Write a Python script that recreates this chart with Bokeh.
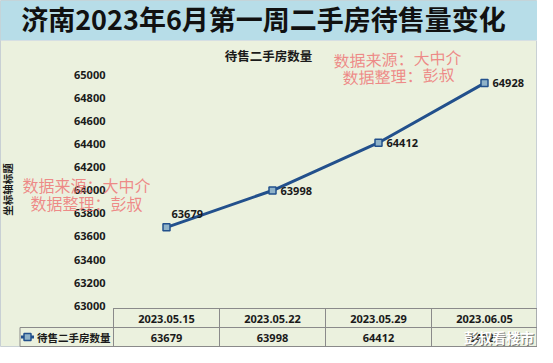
from bokeh.plotting import figure
from bokeh.models import Range1d
from bokeh.core.properties import value
from bokeh.embed import file_html
from bokeh.resources import INLINE

# ---- data ----
dates = ["2023.05.15", "2023.05.22", "2023.05.29", "2023.06.05"]
counts = [63679, 63998, 64412, 64928]
y_ticks = [63000, 63200, 63400, 63600, 63800, 64000, 64200, 64400, 64600, 64800, 65000]
series_name = "待售二手房数量"
main_title = "济南2023年6月第一周二手房待售量变化"
axis_title = "坐标轴标题"
wm_line1 = "数据来源：大中介"
wm_line2 = "数据整理：彭叔"
brand = "彭叔看楼市"

# ---- styles ----
BAND = "#b7dde8"
BG = "#ebf1de"
LINE = "#22508c"
MFILL = "#8fb2c8"
GRIDC = "#8a8a8a"
WM = "#ee7878"
CJK = value("Noto Sans CJK SC")
LAT = value("Noto Sans")

W, H = 537, 347
idx = list(range(len(dates)))

p = figure(width=W, height=H, output_backend="svg", toolbar_location=None,
           x_range=Range1d(-166 / 106, 371 / 106), y_range=Range1d(62639, 65643),
           x_axis_location=None, y_axis_location=None, min_border=0)
p.grid.visible = False
p.outline_line_color = "#c8d0d4"
p.background_fill_color = BG
p.border_fill_color = BG
p.extra_x_ranges = {"px": Range1d(8, 545)}
p.extra_y_ranges = {"py": Range1d(355, 8)}

# title band
p.quad(left=[8], right=[545], top=[8], bottom=[48], fill_color=BAND,
       line_color=None, x_range_name="px", y_range_name="py")
p.segment(x0=[8], x1=[545], y0=[48], y1=[48], line_color="#d6dfe3", line_width=1,
          x_range_name="px", y_range_name="py")
p.text(x=[271], y=[26], text=[main_title], text_font=CJK, text_font_style="bold",
       text_font_size=value("27px"), text_align="center", text_baseline="middle",
       text_color="#111111", x_range_name="px", y_range_name="py")

# chart title
p.text(x=[276], y=[63], text=[series_name], text_font=CJK, text_font_style="bold",
       text_font_size=value("12.5px"), text_align="center", text_baseline="middle",
       text_color="#1a1a1a", x_range_name="px", y_range_name="py")

# y tick labels
p.text(x=[113] * len(y_ticks), y=y_ticks, text=[str(t) for t in y_ticks],
       text_font=LAT, text_font_style="bold", text_font_size=value("11px"),
       text_align="right", text_baseline="middle", text_color="#1a1a1a",
       x_range_name="px")

# y axis title
p.text(x=[15], y=[197], text=[axis_title], angle=1.5708, text_font=CJK,
       text_font_style="bold", text_font_size=value("10.5px"), text_align="center",
       text_baseline="middle", text_color="#1a1a1a", x_range_name="px", y_range_name="py")

# watermarks (red)
p.text(x=[94, 94], y=[192, 210], text=[wm_line1, wm_line2], text_font=CJK,
       text_font_size=value("16px"), text_align="center", text_baseline="middle",
       text_color=WM, text_alpha=0.85, x_range_name="px", y_range_name="py")
p.text(x=[405, 406], y=[66, 83], text=[wm_line1, wm_line2], angle=0.03, text_font=CJK,
       text_font_size=value("16px"), text_align="center", text_baseline="middle",
       text_color=WM, text_alpha=0.85, x_range_name="px", y_range_name="py")

# series line & markers
p.line(idx, counts, line_width=3, line_color=LINE)
p.scatter(idx, counts, marker="square", size=7, fill_color=MFILL, line_color=LINE,
          line_width=1.5)

# data labels
p.text(x=idx[:1], y=counts[:1], text=[str(c) for c in counts[:1]], x_offset=5,
       y_offset=-13, text_font=LAT, text_font_style="bold", text_font_size=value("11px"),
       text_align="left", text_baseline="middle", text_color="#1a1a1a")
p.text(x=idx[1:], y=counts[1:], text=[str(c) for c in counts[1:]], x_offset=8,
       y_offset=0, text_font=LAT, text_font_style="bold", text_font_size=value("11px"),
       text_align="left", text_baseline="middle", text_color="#1a1a1a")

# data table grid
n = len(dates)
p.segment(x0=[-0.5], x1=[n - 0.5], y0=[316], y1=[316], line_color=GRIDC, line_width=1,
          y_range_name="py")
p.segment(x0=[-0.5] * n + [n - 0.5], x1=[-0.5] * n + [n - 0.5],
          y0=[316] * (n + 1), y1=[354] * (n + 1), line_color=GRIDC, line_width=1,
          y_range_name="py")
p.segment(x0=[i + 0.5 for i in idx[:-1]], x1=[i + 0.5 for i in idx[:-1]],
          y0=[316] * (n - 1), y1=[354] * (n - 1), line_color=GRIDC, line_width=1,
          y_range_name="py")
p.segment(x0=[27.5, 27.5, 27.5, 544.5], x1=[544.5, 544.5, 27.5, 544.5],
          y0=[335, 354, 335, 316], y1=[335, 354, 354, 354], line_color=GRIDC,
          line_width=1, x_range_name="px", y_range_name="py")

# table texts
p.text(x=idx, y=[326.5] * n, text=dates, text_font=LAT, text_font_style="bold",
       text_font_size=value("11px"), text_align="center", text_baseline="middle",
       text_color="#1a1a1a", y_range_name="py")
p.text(x=idx, y=[345] * n, text=[str(c) for c in counts], text_font=LAT,
       text_font_style="bold", text_font_size=value("11px"), text_align="center",
       text_baseline="middle", text_color="#1a1a1a", y_range_name="py")

# legend key in table
p.segment(x0=[28.5], x1=[41.5], y0=[344.5], y1=[344.5], line_color=LINE, line_width=3,
          x_range_name="px", y_range_name="py")
p.scatter(x=[35], y=[344.5], marker="square", size=7, fill_color=MFILL, line_color=LINE,
          line_width=1.5, x_range_name="px", y_range_name="py")
p.text(x=[44.5], y=[344.5], text=[series_name], text_font=CJK, text_font_style="bold",
       text_font_size=value("10.5px"), text_align="left", text_baseline="middle",
       text_color="#1a1a1a", x_range_name="px", y_range_name="py")

# brand watermark (white with shadow)
p.text(x=[472.5], y=[345], text=[brand], text_font=CJK, text_font_style="bold",
       text_font_size=value("14px"), text_align="left", text_baseline="middle",
       text_color="#555555", text_alpha=0.8, x_range_name="px", y_range_name="py")
p.text(x=[471.5], y=[344], text=[brand], text_font=CJK, text_font_style="bold",
       text_font_size=value("14px"), text_align="left", text_baseline="middle",
       text_color="#ffffff", x_range_name="px", y_range_name="py")

open("out.html", "w").write(file_html(p, INLINE))
